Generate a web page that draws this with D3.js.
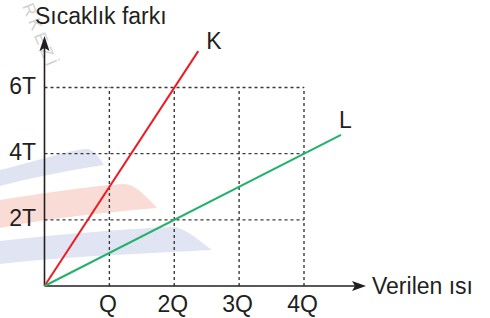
<!DOCTYPE html>
<html>
<head>
<meta charset="utf-8">
<script src="https://cdn.jsdelivr.net/npm/d3@7"></script>
<style>
  html, body { margin: 0; padding: 0; background: #fff; }
  svg { display: block; }
  text { font-family: "Liberation Sans", Arial, sans-serif; fill: #231f20; }
</style>
</head>
<body>
<svg id="chart" width="490" height="318"></svg>
<script>
// ---- data ----
const xTickValues = [1, 2, 3, 4];
const xTickLabels = ["Q", "2Q", "3Q", "4Q"];
const yTickValues = [2, 4, 6];
const yTickLabels = ["2T", "4T", "6T"];
const seriesNames = ["K", "L"];
const seriesK = [[0, 0], [2.37, 7.1]];
const seriesL = [[0, 0], [4.57, 4.57]];
const xAxisTitle = "Verilen ısı";
const yAxisTitle = "Sıcaklık farkı";

// ---- layout ----
const svg = d3.select("#chart");
const x = d3.scaleLinear().domain([0, 4]).range([44.5, 304]);
const y = d3.scaleLinear().domain([0, 6]).range([286, 87.5]);
const ink = "#231f20";

// faint watermark decoration
const deco = svg.append("g");
const swooshes = [
  { d: "M0,170 C40,160 70,150 86,149 C94,149 99,157 104,165 C70,170 30,178 0,186 Z", c: "#e0e3f2" },
  { d: "M0,200 C50,192 100,185 124,184 C135,184 146,196 157,208 C110,212 50,218 0,228 Z", c: "#fadcd7" },
  { d: "M0,241 C60,234 140,228 172,227 C185,227 198,240 212,250 C150,253 60,257 0,264 Z", c: "#e1e4f2" }
];
deco.selectAll("path").data(swooshes).join("path")
  .attr("d", d => d.d).attr("fill", d => d.c);
deco.append("text")
  .attr("transform", "translate(22,6) rotate(68)")
  .style("font-size", "17px").style("fill", "#d2d2d2").style("letter-spacing", "4px")
  .text("RKEZİ");

// grid (dashed)
const grid = svg.append("g")
  .attr("stroke", "#3a3a3a").attr("stroke-width", 1.4).attr("stroke-dasharray", "3,3");
grid.selectAll("line.v").data(xTickValues).join("line").attr("class", "v")
  .attr("x1", d => x(d)).attr("x2", d => x(d))
  .attr("y1", y(0)).attr("y2", y(6));
grid.selectAll("line.h").data(yTickValues).join("line").attr("class", "h")
  .attr("x1", x(0)).attr("x2", x(4))
  .attr("y1", d => y(d)).attr("y2", d => y(d));

// axes with arrows
const axisG = svg.append("g").attr("stroke", ink).attr("stroke-width", 1.6);
axisG.append("line").attr("x1", x(0)).attr("x2", 356).attr("y1", y(0)).attr("y2", y(0));
axisG.append("line").attr("x1", x(0)).attr("x2", x(0)).attr("y1", y(0)).attr("y2", 46);
svg.append("path").attr("fill", ink)
  .attr("d", `M366,${y(0)} L352,${y(0) - 5} L355,${y(0)} L352,${y(0) + 5} Z`);
svg.append("path").attr("fill", ink)
  .attr("d", `M${x(0)},36 L${x(0) - 5},51 L${x(0)},48 L${x(0) + 5},51 Z`);

// lines
const line = d3.line().x(d => x(d[0])).y(d => y(d[1]));
svg.append("path").datum(seriesK).attr("d", line)
  .attr("fill", "none").attr("stroke", "#ec1c24").attr("stroke-width", 2);
svg.append("path").datum(seriesL).attr("d", line)
  .attr("fill", "none").attr("stroke", "#22b26b").attr("stroke-width", 2);

// labels
const fs = "23px";
svg.selectAll("text.xt").data(xTickValues).join("text").attr("class", "xt")
  .attr("x", d => x(d) - 1.5).attr("y", 312).attr("text-anchor", "middle")
  .style("font-size", fs).text((d, i) => xTickLabels[i]);
svg.selectAll("text.yt").data(yTickValues).join("text").attr("class", "yt")
  .attr("x", 36).attr("y", d => y(d) + 6.5).attr("text-anchor", "end")
  .style("font-size", fs).text((d, i) => yTickLabels[i]);
svg.append("text").attr("x", 35).attr("y", 24).style("font-size", fs).text(yAxisTitle);
svg.append("text").attr("x", 372).attr("y", 294).style("font-size", fs).text(xAxisTitle);
const ends = [seriesK[1], seriesL[1]];
svg.selectAll("text.sn").data(seriesNames).join("text").attr("class", "sn")
  .attr("x", (d, i) => x(ends[i][0]) + (i === 0 ? 8 : -2))
  .attr("y", (d, i) => y(ends[i][1]) + (i === 0 ? -2 : -7))
  .style("font-size", fs).text(d => d);
</script>
</body>
</html>
